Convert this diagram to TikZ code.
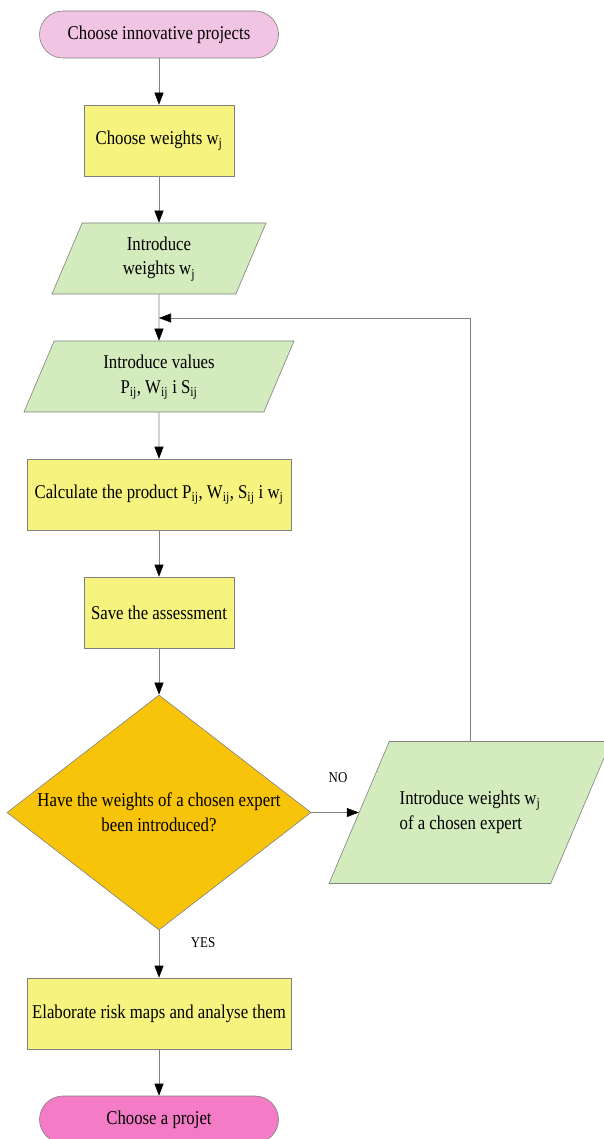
\documentclass[tikz,border=0pt]{standalone}
\usepackage{fontspec}
\setmainfont{Liberation Serif}[FakeStretch=0.86]
\usetikzlibrary{shapes.geometric,arrows.meta}
\definecolor{startpink}{HTML}{F2C4E4}
\definecolor{stoppink}{HTML}{F47CC6}
\definecolor{procyellow}{HTML}{F6F47E}
\definecolor{iogreen}{HTML}{D3EBBD}
\definecolor{askorange}{HTML}{F8C40A}
\definecolor{linegray}{HTML}{808080}

\begin{document}
\begin{tikzpicture}[x=1pt,y=1pt,node distance=118pt,
  every node/.style={font=\fontsize{19.5}{24.5}\selectfont},
  terminal/.style={rectangle,rounded corners=23.5pt,draw=linegray,line width=0.6pt,minimum width=239pt,minimum height=47pt},
  process/.style={rectangle,draw=linegray,line width=0.6pt,fill=procyellow,minimum width=150pt,minimum height=71pt,inner sep=0pt},
  io/.style={trapezium,trapezium left angle=67,trapezium right angle=113,trapezium stretches body,draw=linegray,line width=0.6pt,fill=iogreen,inner xsep=4pt,inner ysep=0pt,text height=52pt,text depth=19pt,align=center},
  decision/.style={diamond,aspect=1.3,draw=linegray,line width=0.6pt,fill=askorange,minimum width=304pt,minimum height=235pt,inner sep=-2pt,align=center},
  answer/.style={font=\fontsize{15}{18}\selectfont},
  flow/.style={draw=linegray,line width=0.6pt,-{Triangle[length=12pt,width=9pt,color=black]}}]
  \useasboundingbox (0,0) rectangle (604,-1139);

  \node (start) [terminal,fill=startpink] at (159,-34.5) {Choose innovative projects};
  \node (weights) [process,below of=start,node distance=106pt] {Choose weights w\textsubscript{j}};
  \node (introw) [io,below of=weights,minimum width=214pt] {Introduce\\weights w\textsubscript{j}};
  \node (values) [io,below of=introw,minimum width=270pt] {Introduce values\\P\textsubscript{ij}, W\textsubscript{ij} i S\textsubscript{ij}};
  \node (product) [process,below of=values,minimum width=264pt] {Calculate the product P\textsubscript{ij}, W\textsubscript{ij}, S\textsubscript{ij} i w\textsubscript{j}};
  \node (save) [process,below of=product] {Save the assessment};
  \node (check) [decision,below of=save,node distance=200pt] {Have the weights of a chosen expert\\been introduced?};
  \node (expert) [io,right of=check,node distance=311pt,minimum width=282pt,text height=87.5pt,text depth=54.5pt,align=left] {Introduce weights w\textsubscript{j}\\of a chosen expert};
  \node (maps) [process,below of=check,node distance=201pt,minimum width=264pt] {Elaborate risk maps and analyse them};
  \node (stop) [terminal,fill=stoppink,below of=maps,node distance=106pt] {Choose a projet};
  \node (no) [answer] at (338,-778) {NO};
  \node (yes) [answer] at (203,-943) {YES};
  \coordinate (loop) at (159,-318);

  \draw[flow] (start) -- (weights);
  \draw[flow] (weights) -- (introw);
  \draw[flow] (introw) -- (values);
  \draw[flow] (values) -- (product);
  \draw[flow] (product) -- (save);
  \draw[flow] (save) -- (check);
  \draw[flow] (check) -- (expert);
  \draw[flow] (expert.center |- expert.north) |- (loop);
  \draw[flow] (check) -- (maps);
  \draw[flow] (maps) -- (stop);
\end{tikzpicture}
\end{document}
